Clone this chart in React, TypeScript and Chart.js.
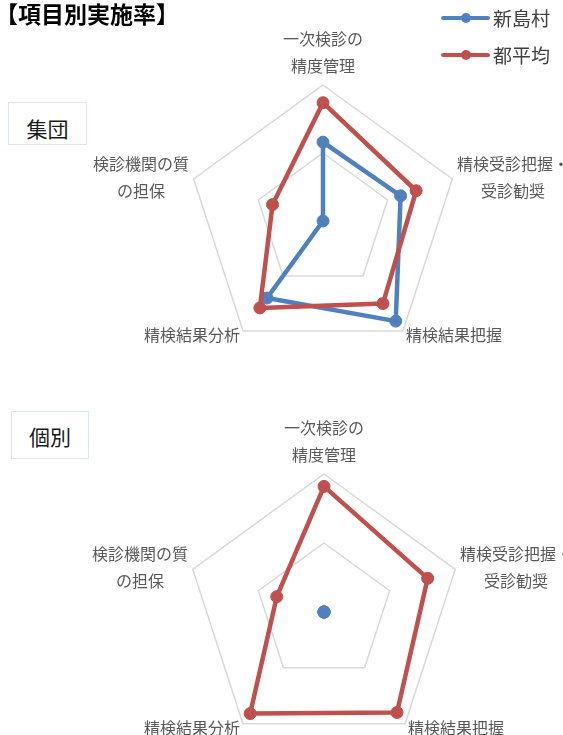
import React, { useEffect, useRef } from 'react';
import { Chart, registerables } from 'chart.js';

Chart.register(...registerables);

// axis labels, one entry per spoke, split into the lines shown on the chart
const categories: string[][] = [
  ['一次検診の', '精度管理'],
  ['精検受診把握・', '受診勧奨'],
  ['精検結果把握'],
  ['精検結果分析'],
  ['検診機関の質', 'の担保'],
];

const seriesNames = ['新島村', '都平均'];
const seriesColors = ['#4f81bd', '#c0504d'];

// 集団
const groupShinjima = [0.58, 0.6, 0.91, 0.7, 0];
const groupTokyo = [0.87, 0.72, 0.75, 0.79, 0.39];

// 個別
const individualShinjima = [0, 0, 0, 0, 0];
const individualTokyo = [0.91, 0.79, 0.9, 0.91, 0.36];

const scaleTicks = { min: 0, max: 1, stepSize: 0.5 };

const FONT = '"Noto Sans CJK JP", "Noto Sans", sans-serif';
const PAGE_W = 563;

// draws the spoke labels centred line by line, Excel style, next to each spoke end
const axisLabelPlugin = {
  id: 'axisLabels',
  afterDraw(chart: any) {
    const scale = chart.scales.r;
    const ctx = chart.ctx;
    const lineHeight = 27;
    ctx.save();
    ctx.font = `16px ${FONT}`;
    ctx.fillStyle = '#595959';
    ctx.textAlign = 'center';
    ctx.textBaseline = 'middle';
    categories.forEach((lines, i) => {
      const p = scale.getPointPosition(i, scale.drawingArea + 5);
      const cos = Math.cos(p.angle);
      const sin = Math.sin(p.angle);
      const w = Math.max(...lines.map((l) => ctx.measureText(l).width));
      const h = lines.length * lineHeight;
      let left = p.x - w / 2;
      if (cos > 0.1) left = p.x;
      else if (cos < -0.1) left = p.x - w;
      let top = p.y - h / 2;
      if (sin < -0.9) top = p.y - h - 1;
      lines.forEach((l, k) => {
        ctx.fillText(l, left + w / 2, top + lineHeight * (k + 0.5));
      });
    });
    ctx.restore();
  },
};

interface RadarPanelProps {
  shinjima: number[];
  tokyo: number[];
  top: number;
  height: number;
  centerX: number;
  centerY: number;
  radius: number;
}

const RadarPanel: React.FC<RadarPanelProps> = ({ shinjima, tokyo, top, height, centerX, centerY, radius }) => {
  const canvasRef = useRef<HTMLCanvasElement>(null);

  useEffect(() => {
    if (!canvasRef.current) return;
    const series = [shinjima, tokyo];
    const chart = new Chart(canvasRef.current, {
      type: 'radar',
      data: {
        labels: categories.map((c) => c.join('')),
        datasets: series.map((values, i) => ({
          label: seriesNames[i],
          data: values,
          borderColor: seriesColors[i],
          backgroundColor: seriesColors[i],
          pointBackgroundColor: seriesColors[i],
          pointBorderColor: seriesColors[i],
          order: series.length - i,
          fill: false,
        })),
      },
      options: {
        responsive: true,
        maintainAspectRatio: false,
        animation: false,
        layout: {
          padding: {
            left: centerX - radius,
            right: PAGE_W - centerX - radius,
            top: centerY - radius,
            bottom: height - centerY - radius,
          },
        },
        elements: {
          line: { borderWidth: 4.5, tension: 0, borderJoinStyle: 'round', borderCapStyle: 'round' },
          point: { radius: 6, borderWidth: 1, hoverRadius: 6 },
        },
        plugins: {
          legend: { display: false },
          tooltip: { enabled: false },
        },
        scales: {
          r: {
            min: scaleTicks.min,
            max: scaleTicks.max,
            ticks: { display: false, stepSize: scaleTicks.stepSize },
            pointLabels: { display: false },
            angleLines: { display: false },
            grid: { color: '#d9d9d9', lineWidth: 1.5 },
          },
        },
      },
      plugins: [axisLabelPlugin],
    });
    return () => {
      chart.destroy();
    };
  }, [shinjima, tokyo]);

  return (
    <div style={{ position: 'absolute', left: 0, top, width: PAGE_W, height }}>
      <canvas ref={canvasRef} />
    </div>
  );
};

const boxStyle: React.CSSProperties = {
  position: 'absolute',
  border: '1px solid #dde6f1',
  background: '#fff',
  boxSizing: 'border-box',
  fontFamily: FONT,
  fontSize: 21,
  color: '#1a1a1a',
  lineHeight: 1,
  textAlign: 'center',
};

export default function App() {
  return (
    <div
      style={{
        position: 'absolute',
        left: 0,
        top: 0,
        width: PAGE_W,
        height: 735,
        overflow: 'hidden',
        background: '#fff',
        fontFamily: FONT,
      }}
    >
      <RadarPanel shinjima={groupShinjima} tokyo={groupTokyo} top={0} height={380} centerX={323} centerY={221} radius={136} />
      <RadarPanel
        shinjima={individualShinjima}
        tokyo={individualTokyo}
        top={380}
        height={400}
        centerX={324}
        centerY={232}
        radius={138}
      />

      <div style={{ position: 'absolute', left: -5, top: 2, fontSize: 23, fontWeight: 'bold', color: '#000', lineHeight: 1, whiteSpace: 'nowrap' }}>
        【項目別実施率】
      </div>

      {seriesNames.map((name, i) => (
        <div key={name} style={{ position: 'absolute', left: 441, top: 18 + i * 37, width: 120, height: 0 }}>
          <div style={{ position: 'absolute', left: 0, top: -2, width: 49, height: 4, borderRadius: 2, background: seriesColors[i] }} />
          <div style={{ position: 'absolute', left: 20, top: -5, width: 10, height: 10, borderRadius: 5, background: seriesColors[i] }} />
          <div style={{ position: 'absolute', left: 52, top: -10, fontSize: 19, lineHeight: '20px', color: '#404040', whiteSpace: 'nowrap' }}>
            {name}
          </div>
        </div>
      ))}

      <div style={{ ...boxStyle, left: 8, top: 102, width: 79, height: 43, paddingTop: 15 }}>集団</div>
      <div style={{ ...boxStyle, left: 11, top: 411, width: 78, height: 48, paddingTop: 14 }}>個別</div>
    </div>
  );
}
